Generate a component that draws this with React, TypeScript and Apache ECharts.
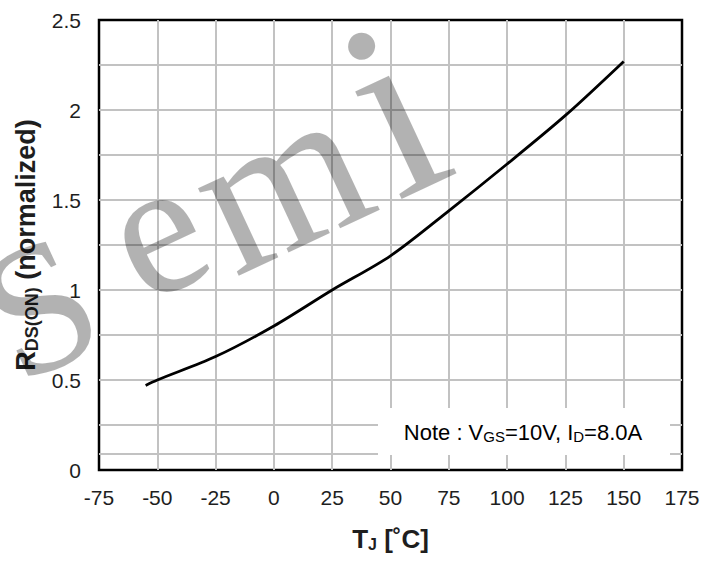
import React, { useEffect, useRef } from 'react';
import * as echarts from 'echarts';

// Data
const temperatures = [-55, -50, -25, 0, 25, 50, 75, 100, 125, 150];
const rdsOnNormalized = [0.47, 0.5, 0.63, 0.8, 1.0, 1.19, 1.44, 1.7, 1.97, 2.27];
const xTickRange = [-75, 175];
const xTickStep = 25;
const yTickRange = [0, 2.5];
const yGridStep = 0.25;
const yLabelStep = 0.5;
const extraGridLines = [0.09];

const FONT = '"Liberation Sans", Arial, Helvetica, sans-serif';
const SERIF = '"Liberation Serif", "Times New Roman", serif';
const GRID_COLOR = '#c2c2c2';
const TEXT_COLOR = '#1e1e1e';

// watermark letters: baseline-left anchor and size (decoration layout)
const WM_ANGLE = (25 * Math.PI) / 180;
const watermarkLetters = [
  { ch: 'S', x: 20, y: 388, size: 185 },
  { ch: 'e', x: 145, y: 308, size: 192 },
  { ch: 'm', x: 236, y: 280, size: 210 },
  { ch: 'i', x: 398, y: 204, size: 255 },
];

function isMultiple(v: number, step: number) {
  const r = v / step;
  return Math.abs(r - Math.round(r)) < 1e-6;
}

export default function App() {
  const ref = useRef<HTMLDivElement>(null);

  useEffect(() => {
    if (!ref.current) return;
    const chart = echarts.init(ref.current, undefined, { renderer: 'svg' });

    const option: any = {
      animation: false,
      backgroundColor: '#ffffff',
      grid: {
        left: 99,
        right: 41,
        top: 20,
        bottom: 92,
        show: true,
        borderColor: '#000',
        borderWidth: 2.5,
        backgroundColor: 'transparent',
      },
      xAxis: {
        type: 'value',
        min: xTickRange[0],
        max: xTickRange[1],
        interval: xTickStep,
        axisLine: { show: false },
        axisTick: { show: false },
        axisLabel: { fontSize: 21, color: TEXT_COLOR, margin: 17, fontFamily: FONT },
        splitLine: {
          show: true,
          showMinLine: false,
          showMaxLine: false,
          lineStyle: { color: GRID_COLOR, width: 2 },
        },
        name: '{b|T}{s|J}{b| [˚C]}',
        nameLocation: 'middle',
        nameGap: 56,
        nameTextStyle: {
          rich: {
            b: { fontSize: 26, fontWeight: 'bold', color: TEXT_COLOR, fontFamily: FONT },
            s: { fontSize: 16, fontWeight: 'bold', color: TEXT_COLOR, fontFamily: FONT, padding: [10, 0, 0, 0] },
          },
        },
      },
      yAxis: {
        type: 'value',
        min: yTickRange[0],
        max: yTickRange[1],
        interval: yGridStep,
        axisLine: { show: false },
        axisTick: { show: false },
        axisLabel: {
          fontSize: 21,
          color: TEXT_COLOR,
          margin: 18,
          fontFamily: FONT,
          formatter: (v: number) => (isMultiple(v, yLabelStep) ? String(v) : ''),
        },
        splitLine: {
          show: true,
          showMinLine: false,
          showMaxLine: false,
          lineStyle: { color: GRID_COLOR, width: 2 },
        },
        name: '{b|R}{s|DS(ON)}{b| (normalized)}',
        nameLocation: 'middle',
        nameRotate: 90,
        nameGap: 58,
        nameTextStyle: {
          rich: {
            b: { fontSize: 27, fontWeight: 'bold', color: TEXT_COLOR, fontFamily: FONT },
            s: { fontSize: 18, fontWeight: 'bold', color: TEXT_COLOR, fontFamily: FONT, padding: [11, 0, 0, 0] },
          },
        },
      },
      series: [
        {
          type: 'line',
          data: temperatures.map((t, i) => [t, rdsOnNormalized[i]]),
          symbol: 'none',
          showSymbol: false,
          smooth: 0.3,
          lineStyle: { color: '#000', width: 2.8 },
          z: 3,
          markLine: {
            silent: true,
            symbol: ['none', 'none'],
            label: { show: false },
            lineStyle: { color: GRID_COLOR, width: 2, type: 'solid' },
            emphasis: { disabled: true },
            data: extraGridLines.map((v) => ({ yAxis: v })),
          },
        },
      ],
      graphic: [
        {
          type: 'rect',
          z: 50,
          shape: { x: 378, y: 408, width: 292, height: 47 },
          style: { fill: '#fff' },
        },
        {
          type: 'text',
          z: 51,
          x: 523,
          y: 432,
          style: {
            text: '{n|Note : V}{s|GS}{n|=10V, I}{s|D}{n|=8.0A}',
            align: 'center',
            verticalAlign: 'middle',
            textAlign: 'center',
            textVerticalAlign: 'middle',
            rich: {
              n: { fontSize: 22, color: TEXT_COLOR, fontFamily: FONT },
              s: { fontSize: 15, color: TEXT_COLOR, fontFamily: FONT, padding: [9, 0, 0, 0] },
            },
          },
        },
        ...watermarkLetters.map((l) => ({
          type: 'text',
          z: 60,
          x: l.x,
          y: l.y,
          rotation: WM_ANGLE,
          silent: true,
          style: {
            text: l.ch,
            x: 0,
            y: -0.3375 * l.size - 3,
            fontFamily: SERIF,
            fontSize: l.size,
            fill: 'rgba(0,0,0,0.3)',
            align: 'left',
            verticalAlign: 'middle',
            textAlign: 'left',
            textVerticalAlign: 'middle',
          },
        })),
      ],
    };

    chart.setOption(option);
    return () => chart.dispose();
  }, []);

  return (
    <div
      ref={ref}
      style={{ position: 'fixed', left: 0, top: 0, width: 723, height: 562, background: '#fff' }}
    />
  );
}
